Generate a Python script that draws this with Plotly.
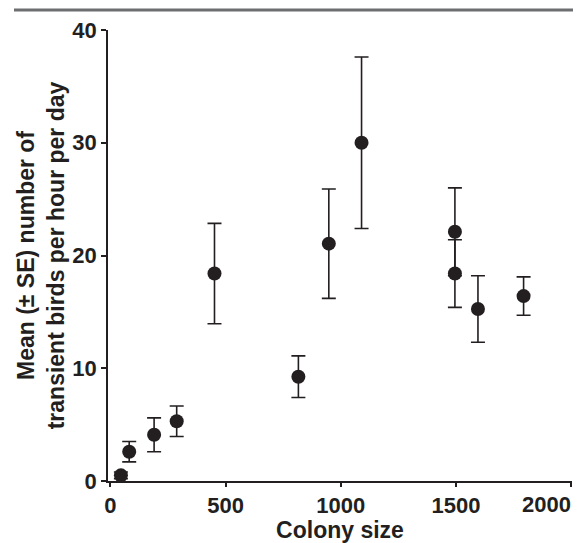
import plotly.graph_objects as go

colony_size = [46, 82, 190, 288, 452, 816, 948, 1090, 1495, 1495, 1595, 1793]
mean_transients = [0.5, 2.6, 4.1, 5.3, 18.4, 9.25, 21.05, 30.0, 22.1, 18.4, 15.25, 16.4]
se = [0.3, 0.9, 1.5, 1.35, 4.45, 1.85, 4.85, 7.6, 3.9, 3.0, 2.95, 1.7]

x_ticks = [0, 500, 1000, 1500, 2000]
y_ticks = [0, 10, 20, 30, 40]

ink = "#231f20"
font_family = "Liberation Sans, Arial, sans-serif"

fig = go.Figure()
fig.add_trace(go.Scatter(
    x=colony_size, y=mean_transients, mode="markers",
    marker=dict(color=ink, size=14, symbol="circle"),
    error_y=dict(type="data", array=se, visible=True, color=ink, thickness=1.6, width=7),
    showlegend=False, cliponaxis=False,
))

# last x tick label sits flush left of its tick in the reference
x_ticktext = [str(v) for v in x_ticks[:-1]] + [""]

fig.update_layout(
    width=583, height=543,
    margin=dict(l=108, r=11, t=30, b=62),
    paper_bgcolor="white", plot_bgcolor="white",
    font=dict(family=font_family, color=ink),
    xaxis=dict(
        range=[-10, 2003], tickvals=x_ticks, ticktext=x_ticktext,
        showline=True, linecolor=ink, linewidth=1.6, ticks="outside", ticklen=4,
        tickcolor=ink, tickwidth=1.6, showgrid=False, zeroline=False,
        tickfont=dict(size=22, family=font_family, color=ink, weight="bold"),
        title=dict(text="<b>Colony size</b>", font=dict(size=23, color=ink), standoff=2),
        automargin=False,
    ),
    yaxis=dict(
        range=[0, 40], tickvals=y_ticks, ticktext=[str(v) for v in y_ticks],
        showline=True, linecolor=ink, linewidth=1.6, ticks="outside", ticklen=5,
        tickcolor=ink, tickwidth=1.6, showgrid=False, zeroline=False,
        tickfont=dict(size=22, family=font_family, color=ink, weight="bold"),
        title=dict(text="<b>Mean (± SE) number of<br>transient birds per hour per day</b>",
                   font=dict(size=23, color=ink), standoff=1),
        automargin=False,
    ),
)

fig.add_annotation(
    x=x_ticks[-1], y=0, xref="x", yref="y", text="<b>%d</b>" % x_ticks[-1],
    showarrow=False, xanchor="right", yanchor="top", yshift=-9, xshift=2,
    font=dict(size=22, family=font_family, color=ink),
)

# top rule across the figure
fig.add_shape(type="line", xref="paper", yref="paper",
              x0=(14 - 108) / 464, x1=(573 - 108) / 464,
              y0=1 + 20 / 451, y1=1 + 20 / 451,
              line=dict(color="#6d6e70", width=3))

fig.write_html("out.html", config={"displayModeBar": False},
               post_script="document.body.style.margin='0px';")
